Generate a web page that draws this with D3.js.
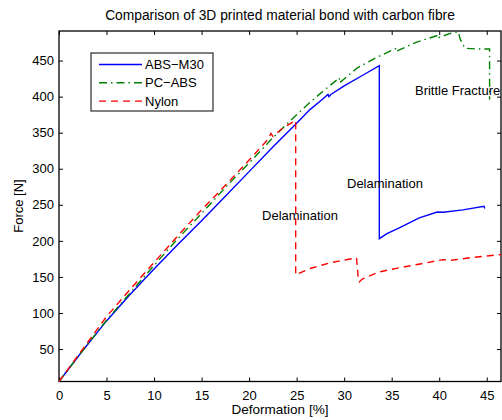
<!DOCTYPE html>
<html><head><meta charset="utf-8">
<script src="https://cdn.jsdelivr.net/npm/d3@7"></script>
<style>
body{margin:0;background:#fff;}
svg{display:block;font-family:"Liberation Sans",Arial,Helvetica,sans-serif;}
</style></head>
<body><svg id="c" width="502" height="420"></svg>
<script>
const absX = [0,2.5,5,7.5,10,12.5,15,17.5,20,22.5,25,26.4,27.5,28.3,28.4,28.6,30,32,33.7,33.7,34.5,35.8,37.9,39.8,40.4,42.5,44.7,44.8];
const absY = [5,48,89,126,161,195,228,262,296,330,363,382,394,403,400,403,415,430,443,203,210,218,232,240,239.6,243,248,245];

const pcX = [0,2.5,5,7.5,10,12.5,15,17.5,20,22.5,25,26.4,28,29.5,29.5,31.4,33.5,35.5,35.5,37.5,40,40,41,42,42.2,42.7,44,45.3,45.3];
const pcY = [5,48,90,128,166,203,238,274,308,343,375,392,410,426,419,440,455,467,463,475,485.6,482,487,490,480,467,466,466,396];

const nyX = [0,2.5,5,7.5,10,12.5,15,17.5,20,22,22.3,22.5,23.6,24.9,24.9,26.5,28.5,31.3,31.5,31.6,31.9,33.7,35.8,38,40.4,41.2,43.5,46.5];
const nyY = [5,50,95,133,170,207,243,277,312,341,349,345,357,367,153,162,169.6,176.5,145,143,147,157,162.7,168,174,173,177,181];

const seriesNames = ["ABS\u2212M30","PC\u2212ABS","Nylon"];
const xTicks = [0,5,10,15,20,25,30,35,40,45];
const yTicks = [50,100,150,200,250,300,350,400,450];
const annotations = [
  {text:"Brittle Fracture", x:37.45, y:402},
  {text:"Delamination", x:30.3, y:273},
  {text:"Delamination", x:21.36, y:229}
];

const svg = d3.select("#c");
const L=59, R=501, T=31, B=381.5;
const x = d3.scaleLinear().domain([0,46.5]).range([L,R]);
const y = d3.scaleLinear().domain([5,491]).range([B,T]);

svg.append("defs").append("clipPath").attr("id","clip")
  .append("rect").attr("x",L).attr("y",T).attr("width",R-L).attr("height",B-T);

// title
svg.append("text").attr("x",(L+R)/2).attr("y",20).attr("text-anchor","middle")
  .attr("font-size",13.8).text("Comparison of 3D printed material bond with carbon fibre");

// axes ticks
const g = svg.append("g");
const xb = g.append("g").attr("transform",`translate(0,${B})`)
  .call(d3.axisBottom(x).tickValues(xTicks).tickSize(-4).tickPadding(9).tickFormat(d3.format("d")));
const xt = g.append("g").attr("transform",`translate(0,${T})`)
  .call(d3.axisTop(x).tickValues(xTicks).tickSize(-4).tickFormat(""));
const yl = g.append("g").attr("transform",`translate(${L},0)`)
  .call(d3.axisLeft(y).tickValues(yTicks).tickSize(-4).tickPadding(5).tickFormat(d3.format("d")));
const yr = g.append("g").attr("transform",`translate(${R},0)`)
  .call(d3.axisRight(y).tickValues(yTicks).tickSize(-4).tickFormat(""));
[xb,xt,yl,yr].forEach(a=>{
  a.select(".domain").remove();
  a.selectAll("line").attr("stroke","#000");
  a.selectAll("text").attr("font-size",13).attr("fill","#000").attr("font-family","Liberation Sans, Arial, sans-serif");
});
g.append("rect").attr("x",L).attr("y",T).attr("width",R-L).attr("height",B-T)
  .attr("fill","none").attr("stroke","#000").attr("stroke-width",1.3);

// labels
svg.append("text").attr("x",(L+R)/2).attr("y",414).attr("text-anchor","middle")
  .attr("font-size",13.5).text("Deformation [%]");
svg.append("text").attr("transform","translate(23,206) rotate(-90)").attr("text-anchor","middle")
  .attr("font-size",13).text("Force [N]");

// lines
const series = [
  {name:seriesNames[0], xs:absX, ys:absY, color:"#0000ff", dash:null},
  {name:seriesNames[1], xs:pcX, ys:pcY, color:"#008000", dash:"8,4,1.5,4"},
  {name:seriesNames[2], xs:nyX, ys:nyY, color:"#ff0000", dash:"7,5"}
];
const line = d3.line().x(d=>x(d[0])).y(d=>y(d[1]));
const plot = svg.append("g").attr("clip-path","url(#clip)");
series.forEach(s=>{
  plot.append("path").datum(s.xs.map((v,i)=>[v,s.ys[i]]))
    .attr("d",line).attr("fill","none").attr("stroke",s.color)
    .attr("stroke-width",1.4).attr("stroke-dasharray",s.dash);
});

// annotations
annotations.forEach(a=>{
  svg.append("text").attr("x",x(a.x)).attr("y",y(a.y)).attr("font-size",13).text(a.text);
});

// legend
const lg = svg.append("g");
lg.append("rect").attr("x",91).attr("y",53).attr("width",122).attr("height",58)
  .attr("fill","#fff").attr("stroke","#000").attr("stroke-width",1);
series.forEach((s,i)=>{
  const yy = 64.5 + i*18.3;
  lg.append("line").attr("x1",99).attr("x2",142).attr("y1",yy).attr("y2",yy)
    .attr("stroke",s.color).attr("stroke-width",1.4).attr("stroke-dasharray",s.dash);
  lg.append("text").attr("x",145).attr("y",yy+4.5).attr("font-size",13).text(s.name);
});
</script></body></html>
